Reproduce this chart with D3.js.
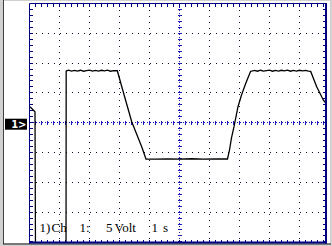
<!DOCTYPE html>
<html><head><meta charset="utf-8">
<script src="https://cdn.jsdelivr.net/npm/d3@7"></script>
<style>html,body{margin:0;padding:0;background:#d0d0d0;overflow:hidden}</style>
</head><body><svg id="c" width="332" height="246"></svg>
<script>
// ---- data (time in s, voltage in V) ----
const timeS = [0.017,0.183,0.2,1.217,1.223,
  1.3,1.4,1.5,1.6,1.7,1.8,1.9,2.0,2.1,2.2,2.3,2.4,2.5,2.6,2.7,2.8,2.927,
  3.107,3.407,3.74,3.883,
  4.2,4.6,5.0,5.4,5.8,6.2,6.6,
  6.667,6.733,6.817,6.95,7.067,7.2,7.367,
  7.5,7.6,7.7,7.8,7.9,8.0,8.1,8.2,8.3,8.4,8.5,8.6,8.7,8.8,8.9,9.0,9.1,9.2,9.3,9.373,
  9.573,9.793,9.927,9.983];
const volts = [2.68,1.85,-22,-22,8.67,
  8.8,8.65,8.78,8.66,8.8,8.64,8.74,8.82,8.65,8.78,8.66,8.8,8.7,8.82,8.64,8.75,8.72,
  5.49,0.17,-4.03,-6.09,
  -6.12,-6.06,-6.1,-6.05,-6.1,-6.07,-6.09,
  -4.58,-2.55,-0.67,2.68,4.65,6.49,8.6,
  8.78,8.64,8.8,8.66,8.75,8.82,8.64,8.78,8.66,8.8,8.7,8.82,8.64,8.78,8.66,8.8,8.7,8.78,8.66,8.6,
  6.04,3.81,2.97,2.63];
const timeDivs = [1,2,3,4,6,7,8,9];
const voltDivs = [-15,-10,-5,5,10,15];
const labelTokens = ["1)","Ch","1:","5","Volt","1","s"];
const markerLabel = "1>";

// ---- layout ----
const svg = d3.select("#c");
const x = d3.scaleLinear().domain([0,10]).range([29.5,329.5]);
const y = d3.scaleLinear().domain([-20,20]).range([241.9,3.5]);
const L=29.5, T=3.5, R=326, B=242.5;
const navy="#000080", dotC="#101030", cBlue="#1a1ab8";

svg.append("rect").attr("width",332).attr("height",246).attr("fill","#d0d0d0");
svg.append("rect").attr("x",4).attr("y",1).attr("width",326).attr("height",242).attr("fill","#fff");
svg.append("line").attr("x1",3.5).attr("x2",3.5).attr("y1",0).attr("y2",244).attr("stroke","#404040");
svg.append("line").attr("x1",3).attr("x2",331).attr("y1",244).attr("y2",244).attr("stroke","#202020");

const g = svg.append("g").attr("shape-rendering","crispEdges");
// grid dotted lines
g.selectAll(".vg").data(timeDivs).join("line")
  .attr("x1",d=>Math.floor(x(d))+0.5).attr("x2",d=>Math.floor(x(d))+0.5)
  .attr("y1",T).attr("y2",B).attr("stroke",dotC).attr("stroke-dasharray","1,5");
g.selectAll(".hg").data(voltDivs).join("line")
  .attr("y1",d=>Math.floor(y(d))+0.5).attr("y2",d=>Math.floor(y(d))+0.5)
  .attr("x1",L).attr("x2",R).attr("stroke",dotC).attr("stroke-dasharray","1,5");

// center lines
const cx = Math.floor(x(5))+0.5, cy = Math.floor(y(0))+0.5;
g.append("line").attr("x1",L).attr("x2",R).attr("y1",cy).attr("y2",cy)
  .attr("stroke",cBlue).attr("stroke-dasharray","1,2");
g.append("line").attr("x1",cx).attr("x2",cx).attr("y1",T).attr("y2",B)
  .attr("stroke",cBlue).attr("stroke-dasharray","1,2");
const minorT = d3.range(0,50).map(i=>i*0.2).filter(t=>x(t)<R);
const minorV = d3.range(-20,21,1);
g.selectAll(".ht").data(minorT).join("line")
  .attr("x1",d=>Math.floor(x(d))+0.5).attr("x2",d=>Math.floor(x(d))+0.5)
  .attr("y1",cy-2).attr("y2",cy+2).attr("stroke",cBlue);
g.selectAll(".vt").data(minorV).join("line")
  .attr("y1",d=>Math.floor(y(d))+0.5).attr("y2",d=>Math.floor(y(d))+0.5)
  .attr("x1",cx-2).attr("x2",cx+2).attr("stroke",cBlue);

// border ticks
g.selectAll(".tt").data(minorT).join("line")
  .attr("x1",d=>Math.floor(x(d))+0.5).attr("x2",d=>Math.floor(x(d))+0.5)
  .attr("y1",T).attr("y2",T+3).attr("stroke",navy);
g.selectAll(".bt").data(minorT).join("line")
  .attr("x1",d=>Math.floor(x(d))+0.5).attr("x2",d=>Math.floor(x(d))+0.5)
  .attr("y1",B-3).attr("y2",B).attr("stroke",navy);
g.selectAll(".lt").data(minorV).join("line")
  .attr("y1",d=>Math.floor(y(d))+0.5).attr("y2",d=>Math.floor(y(d))+0.5)
  .attr("x1",L).attr("x2",L+3).attr("stroke",navy);
g.selectAll(".rt").data(minorV).join("line")
  .attr("y1",d=>Math.floor(y(d))+0.5).attr("y2",d=>Math.floor(y(d))+0.5)
  .attr("x1",R-3).attr("x2",R).attr("stroke",navy);

// label text
const tokX = [39.5,51.5,79.5,106,114.5,151.5,163];
svg.append("g").selectAll("text").data(labelTokens).join("text")
  .attr("x",(d,i)=>tokX[i]).attr("y",231.5)
  .attr("font-family","'Liberation Serif',serif").attr("font-size",13)
  .attr("fill","#000")
  .text(d=>d);

// trace
svg.append("clipPath").attr("id","cp").append("rect")
  .attr("x",L).attr("y",T).attr("width",R-L).attr("height",B-T);
const pts = timeS.map((t,i)=>[t,volts[i]]);
svg.append("path").attr("clip-path","url(#cp)")
  .attr("d",d3.line().x(d=>x(d[0])).y(d=>y(d[1]))(pts))
  .attr("fill","none").attr("stroke","#000").attr("stroke-width",1.3);

// border
svg.append("line").attr("x1",L).attr("x2",L).attr("y1",T).attr("y2",B+1).attr("stroke",navy);
svg.append("line").attr("x1",L).attr("x2",R+1).attr("y1",T).attr("y2",T).attr("stroke",navy);
svg.append("line").attr("x1",R).attr("x2",R).attr("y1",T-0.5).attr("y2",B+1).attr("stroke",navy).attr("stroke-width",2);
svg.append("line").attr("x1",L-0.5).attr("x2",R+1).attr("y1",B).attr("y2",B).attr("stroke",navy).attr("stroke-width",2);

// channel marker
svg.append("rect").attr("x",5).attr("y",y(0)-4).attr("width",22).attr("height",11).attr("fill","#000");
svg.append("text").attr("x",26.5).attr("y",y(0)+5.5).attr("text-anchor","end")
  .attr("font-family","'DejaVu Sans',sans-serif").attr("font-weight","bold").attr("font-size",10)
  .attr("fill","#fff").text(markerLabel);
</script></body></html>
